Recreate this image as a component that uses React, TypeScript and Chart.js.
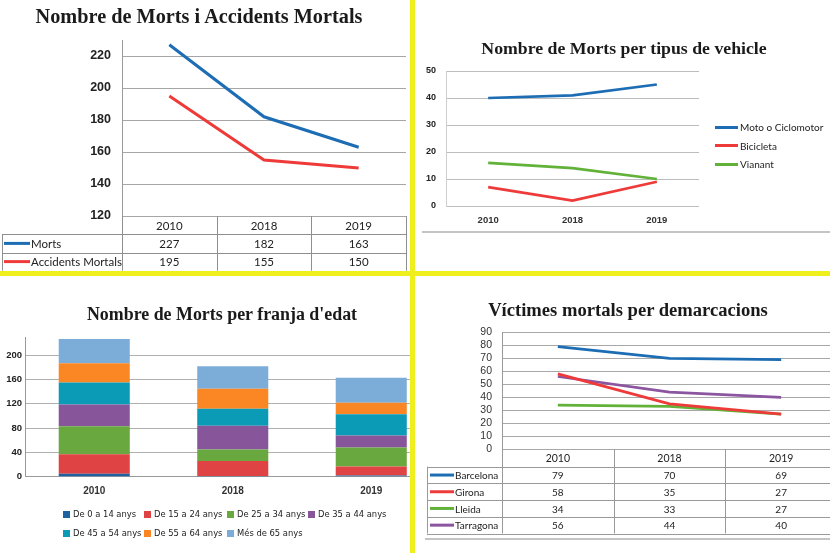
import React, { useEffect, useRef } from 'react';
import Chart from 'chart.js/auto';

// ---------- DATA ----------
const YEARS = ['2010', '2018', '2019'];

// Chart 1: Nombre de Morts i Accidents Mortals
const MORTS = [227, 182, 163];
const ACCIDENTS_MORTALS = [195, 155, 150];
const TICKS_1 = [120, 140, 160, 180, 200, 220];

// Chart 2: Nombre de Morts per tipus de vehicle
const MOTO = [40, 41, 45];
const BICICLETA = [7, 2, 9];
const VIANANT = [16, 14, 10];
const TICKS_2 = [0, 10, 20, 30, 40, 50];

// Chart 3: Nombre de Morts per franja d'edat
const AGE_GROUPS = [
  'De 0 a 14 anys',
  'De 15 a 24 anys',
  'De 25 a 34 anys',
  'De 35 a 44 anys',
  'De 45 a 54 anys',
  'De 55 a 64 anys',
  'Més de 65 anys',
];
const AGE_0_14 = [5, 1, 2];
const AGE_15_24 = [32, 25, 15];
const AGE_25_34 = [46, 19, 31];
const AGE_35_44 = [36, 39, 20];
const AGE_45_54 = [36, 28, 35];
const AGE_55_64 = [32, 33, 19];
const AGE_65_PLUS = [40, 37, 41];
const TICKS_3 = [0, 40, 80, 120, 160, 200];

// Chart 4: Víctimes mortals per demarcacions
const BARCELONA = [79, 70, 69];
const GIRONA = [58, 35, 27];
const LLEIDA = [34, 33, 27];
const TARRAGONA = [56, 44, 40];
const TICKS_4 = [0, 10, 20, 30, 40, 50, 60, 70, 80, 90];

// ---------- STYLE ----------
const BLUE = '#1c6db4';
const RED = '#ee3b3a';
const GREEN = '#62b239';
const PURPLE = '#8b55a0';
const AGE_COLORS = ['#1f62a3', '#e04343', '#69a83f', '#86559a', '#0b9bb6', '#fa8723', '#7cadd9'];
const AGE_DATA = [AGE_0_14, AGE_15_24, AGE_25_34, AGE_35_44, AGE_45_54, AGE_55_64, AGE_65_PLUS];

const SANS = '"Liberation Sans", Arial, sans-serif';
const LATO = 'Lato, "Liberation Sans", sans-serif';
const SERIF = '"Liberation Serif", serif';
const YELLOW = '#f0ef1e';

const fit = (w?: number, h?: number) => (s: any) => {
  if (w !== undefined) s.width = w;
  if (h !== undefined) s.height = h;
  s.paddingTop = 0;
  s.paddingBottom = 0;
  s.paddingLeft = 0;
  s.paddingRight = 0;
};
const setTicks = (vals: number[]) => (s: any) => {
  s.ticks = vals.map((v) => ({ value: v }));
};

const base = (padding: any) => ({
  responsive: false,
  animation: false,
  devicePixelRatio: 1,
  events: [],
  layout: { padding },
  plugins: { legend: { display: false }, title: { display: false }, tooltip: { enabled: false } },
});

type TableCfg = {
  headerH: number;
  rowH: number;
  leftX: number;
  lineX0: number;
  lineX1: number;
  textX: number;
  font: string;
  headerFont: string;
  lineColor: string;
};

function tablePlugin(cfg: TableCfg) {
  return {
    id: 'dataTable',
    afterDraw(chart: any) {
      const { ctx, chartArea } = chart;
      const xs = chart.scales.x;
      const labels: string[] = chart.data.labels;
      const n = labels.length;
      const step = xs.getPixelForValue(1) - xs.getPixelForValue(0);
      const bounds: number[] = [];
      for (let i = 0; i <= n; i++) bounds.push(xs.getPixelForValue(0) - step / 2 + i * step);
      const rows = chart.data.datasets;
      const top = chartArea.bottom;
      const bottom = top + cfg.headerH + rows.length * cfg.rowH;
      const px = (v: number) => Math.round(v) + 0.5;
      ctx.save();
      ctx.strokeStyle = cfg.lineColor;
      ctx.lineWidth = 1;
      ctx.beginPath();
      bounds.forEach((b) => {
        ctx.moveTo(px(b), top);
        ctx.lineTo(px(b), bottom);
      });
      for (let r = 0; r <= rows.length; r++) {
        const y = px(top + cfg.headerH + r * cfg.rowH);
        ctx.moveTo(cfg.leftX, y);
        ctx.lineTo(px(bounds[n]), y);
      }
      ctx.moveTo(px(cfg.leftX), top + cfg.headerH);
      ctx.lineTo(px(cfg.leftX), bottom);
      ctx.stroke();

      ctx.fillStyle = '#222';
      ctx.textBaseline = 'middle';
      ctx.textAlign = 'center';
      ctx.font = cfg.headerFont;
      labels.forEach((l, i) => ctx.fillText(l, (bounds[i] + bounds[i + 1]) / 2, top + cfg.headerH / 2 + 1));
      ctx.font = cfg.font;
      rows.forEach((ds: any, r: number) => {
        const cy = top + cfg.headerH + r * cfg.rowH + cfg.rowH / 2;
        ctx.strokeStyle = ds.borderColor;
        ctx.lineWidth = 3;
        ctx.beginPath();
        ctx.moveTo(cfg.lineX0, cy);
        ctx.lineTo(cfg.lineX1, cy);
        ctx.stroke();
        ctx.textAlign = 'left';
        ctx.fillText(ds.label, cfg.textX, cy + 1);
        ctx.textAlign = 'center';
        ds.data.forEach((v: number, i: number) => ctx.fillText(String(v), (bounds[i] + bounds[i + 1]) / 2, cy + 1));
      });
      ctx.restore();
    },
  };
}

const lineDs = (label: string, data: number[], color: string, width: number) => ({
  label,
  data,
  borderColor: color,
  backgroundColor: color,
  borderWidth: width,
  pointRadius: 0,
  tension: 0,
});

// ---------- CONFIGS ----------
const config1 = () => ({
  type: 'line',
  data: {
    labels: YEARS,
    datasets: [lineDs('Morts', MORTS, BLUE, 3), lineDs('Accidents Mortals', ACCIDENTS_MORTALS, RED, 3)],
  },
  options: {
    ...base({ top: 40, bottom: 55, left: 0, right: 4 }),
    scales: {
      x: { display: false, offset: true, afterFit: fit() },
      y: {
        min: 120,
        max: 230,
        afterBuildTicks: setTicks(TICKS_1),
        afterFit: fit(122),
        ticks: { autoSkip: false, font: { family: SANS, size: 12.5, weight: 'bold' }, color: '#222', padding: 11 },
        grid: { color: '#a6a6a6', drawTicks: false },
        border: { color: '#9a9a9a' },
      },
    },
  },
  plugins: [
    tablePlugin({
      headerH: 18.3,
      rowH: 18.2,
      leftX: 2,
      lineX0: 4,
      lineX1: 30,
      textX: 31,
      font: `11.5px ${LATO}`,
      headerFont: `11.5px ${LATO}`,
      lineColor: '#8f8f8f',
    }),
  ],
});

const config2 = () => ({
  type: 'line',
  data: {
    labels: YEARS,
    datasets: [
      lineDs('Moto o Ciclomotor', MOTO, BLUE, 2.7),
      lineDs('Bicicleta', BICICLETA, RED, 2.7),
      lineDs('Vianant', VIANANT, GREEN, 2.7),
    ],
  },
  options: {
    ...base({ top: 71, bottom: 45, left: 0, right: 131 }),
    scales: {
      x: {
        offset: true,
        afterFit: fit(undefined, 20),
        grid: { display: false, drawTicks: false },
        border: { display: false },
        ticks: { font: { family: SANS, size: 9.5, weight: 'bold' }, color: '#333', padding: 8.3 },
      },
      y: {
        min: 0,
        max: 50,
        afterBuildTicks: setTicks(TICKS_2),
        afterFit: fit(31),
        ticks: { autoSkip: false, font: { family: SANS, size: 9, weight: 'bold' }, color: '#222', padding: 10 },
        grid: { color: '#bdbdbd', drawTicks: false },
        border: { color: '#cfcfcf' },
      },
    },
  },
});

const config3 = () => ({
  type: 'bar',
  data: {
    labels: YEARS,
    datasets: AGE_GROUPS.map((g, i) => ({
      label: g,
      data: AGE_DATA[i],
      backgroundColor: AGE_COLORS[i],
      borderWidth: 0,
      barPercentage: 0.513,
      categoryPercentage: 1,
    })),
  },
  options: {
    ...base({ top: 61.1, bottom: 56.3, left: 0, right: 9.5 }),
    scales: {
      x: {
        stacked: true,
        afterFit: fit(undefined, 20),
        grid: { display: false, drawTicks: false },
        border: { color: '#999' },
        ticks: { font: { family: SANS, size: 10, weight: 'bold' }, color: '#333', padding: 8.3 },
      },
      y: {
        stacked: true,
        min: 0,
        max: 230,
        afterBuildTicks: setTicks(TICKS_3),
        afterFit: fit(25),
        ticks: { autoSkip: false, font: { family: SANS, size: 9.5, weight: 'bold' }, color: '#222', padding: 3 },
        grid: { color: '#b0b0b0', drawTicks: false },
        border: { color: '#999' },
      },
    },
  },
});

const config4 = () => ({
  type: 'line',
  data: {
    labels: YEARS,
    datasets: [
      lineDs('Barcelona', BARCELONA, BLUE, 2.7),
      lineDs('Girona', GIRONA, RED, 2.7),
      lineDs('Lleida', LLEIDA, GREEN, 2.7),
      lineDs('Tarragona', TARRAGONA, PURPLE, 2.7),
    ],
  },
  options: {
    ...base({ top: 56.3, bottom: 103.7, left: 0, right: 8 }),
    scales: {
      x: { display: false, offset: true, afterFit: fit() },
      y: {
        min: 0,
        max: 90,
        afterBuildTicks: setTicks(TICKS_4),
        afterFit: fit(87),
        ticks: { autoSkip: false, font: { family: SANS, size: 10.5 }, color: '#333', padding: 10 },
        grid: { color: '#a8a8a8', drawTicks: false },
        border: { color: '#999' },
      },
    },
  },
  plugins: [
    tablePlugin({
      headerH: 17.4,
      rowH: 16.7,
      leftX: 12,
      lineX0: 15,
      lineX1: 39,
      textX: 40,
      font: `10px ${LATO}`,
      headerFont: `10.5px ${LATO}`,
      lineColor: '#9a9a9a',
    }),
  ],
});

// ---------- COMPONENTS ----------
function ChartCanvas({ width, height, make }: { width: number; height: number; make: () => any }) {
  const ref = useRef<HTMLCanvasElement | null>(null);
  useEffect(() => {
    if (!ref.current) return;
    const chart = new Chart(ref.current, make());
    return () => chart.destroy();
  }, []);
  return <canvas ref={ref} width={width} height={height} style={{ display: 'block', width, height }} />;
}

function Title({ text, cx, cy, size }: { text: string; cx: number; cy: number; size: number }) {
  return (
    <div
      style={{
        position: 'absolute',
        left: cx,
        top: cy - size * 0.5,
        transform: 'translateX(-50%)',
        whiteSpace: 'nowrap',
        fontFamily: SERIF,
        fontWeight: 'bold',
        fontSize: size,
        lineHeight: 1,
        color: '#1a1a1a',
      }}
    >
      {text}
    </div>
  );
}

const box = (left: number, top: number, width: number, height: number, extra: any = {}) => ({
  position: 'absolute' as const,
  left,
  top,
  width,
  height,
  ...extra,
});

export default function App() {
  const lineLegend = [
    { name: 'Moto o Ciclomotor', color: BLUE },
    { name: 'Bicicleta', color: RED },
    { name: 'Vianant', color: GREEN },
  ];
  return (
    <div style={{ position: 'fixed', left: 0, top: 0, width: 830, height: 553, background: '#fff', overflow: 'hidden' }}>
      {/* Panel 1 */}
      <div style={box(0, 0, 410, 271, { overflow: 'hidden' })}>
        <ChartCanvas width={410} height={271} make={config1} />
      </div>
      <Title text="Nombre de Morts i Accidents Mortals" cx={199} cy={16.3} size={20.3} />

      {/* Panel 2 */}
      <div style={box(415, 0, 415, 271, { overflow: 'hidden' })}>
        <ChartCanvas width={415} height={271} make={config2} />
      </div>
      <Title text="Nombre de Morts per tipus de vehicle" cx={624} cy={49} size={17.75} />
      <div style={box(715, 118, 115, 56)}>
        {lineLegend.map((it) => (
          <div key={it.name} style={{ display: 'flex', alignItems: 'center', height: 18.5 }}>
            <span style={{ display: 'inline-block', width: 23, height: 3, background: it.color }} />
            <span style={{ fontFamily: LATO, fontSize: 10, color: '#222', marginLeft: 2, lineHeight: 1 }}>{it.name}</span>
          </div>
        ))}
      </div>
      <div style={box(422, 231, 408, 2, { background: '#c4c4c4' })} />

      {/* Panel 3 */}
      <div style={box(0, 276, 410, 277, { overflow: 'hidden' })}>
        <ChartCanvas width={450} height={277} make={config3} />
      </div>
      <Title text="Nombre de Morts per franja d'edat" cx={222} cy={315} size={17.9} />
      <div
        style={box(63, 504.5, 330, 38, {
          display: 'grid',
          gridTemplateColumns: '81px 83px 81px auto',
          gridAutoRows: '19px',
        })}
      >
        {AGE_GROUPS.map((g, i) => (
          <div key={g} style={{ display: 'flex', alignItems: 'center', whiteSpace: 'nowrap' }}>
            <span style={{ display: 'inline-block', width: 7, height: 7, background: AGE_COLORS[i], marginRight: 3 }} />
            <span style={{ fontFamily: '"DejaVu Sans", sans-serif', fontSize: 8.4, color: '#222', lineHeight: 1 }}>{g}</span>
          </div>
        ))}
      </div>

      {/* Panel 4 */}
      <div style={box(415, 276, 415, 277, { overflow: 'hidden' })}>
        <ChartCanvas width={430} height={277} make={config4} />
      </div>
      <Title text="Víctimes mortals per demarcacions" cx={628} cy={310.5} size={18.6} />
      <div style={box(425, 538, 405, 2, { background: '#c4c4c4' })} />

      {/* Yellow separators */}
      <div style={box(410, 0, 5, 553, { background: YELLOW })} />
      <div style={box(0, 271, 830, 5, { background: YELLOW })} />
    </div>
  );
}
